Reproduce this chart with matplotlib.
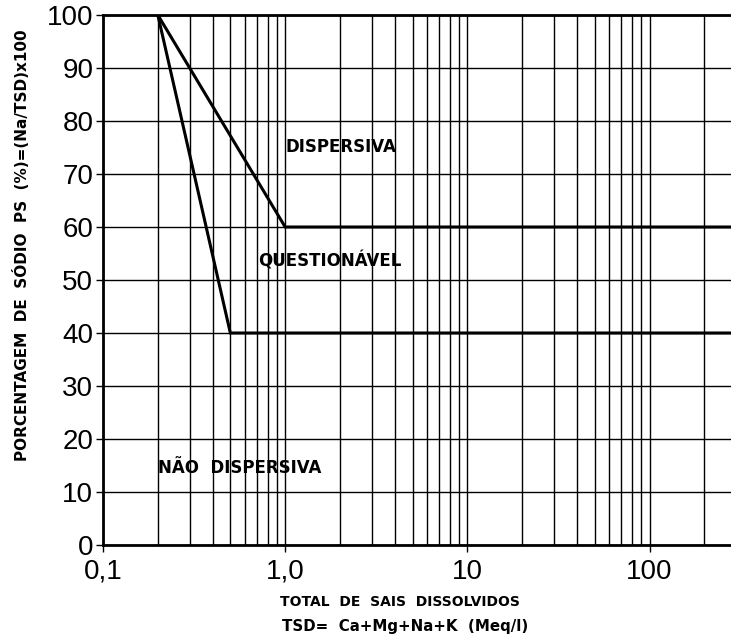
import matplotlib
matplotlib.use("Agg")
import matplotlib.pyplot as plt
from matplotlib.ticker import FixedLocator, NullFormatter, LogLocator

# Boundary lines
upper_x = [0.2, 1.0, 280]
upper_y = [100, 60, 60]
lower_x = [0.2, 0.5, 280]
lower_y = [100, 40, 40]

x_ticks = [0.1, 1.0, 10, 100]
x_tick_labels = ["0,1", "1,0", "10", "100"]
y_ticks = list(range(0, 101, 10))

region_labels = ["DISPERSIVA", "QUESTIONÁVEL", "NÃO  DISPERSIVA"]
region_x = [1.0, 0.71, 0.2]
region_y = [75, 53.5, 14.5]

fig = plt.figure(figsize=(7.31, 6.39), dpi=100)
ax = fig.add_axes([103/731, 1 - 545/639, 1 - 103/731, (545 - 15)/639])
ax.set_xscale("log")
ax.set_xlim(0.1, 280)
ax.set_ylim(0, 100)

ax.plot(upper_x, upper_y, color="black", lw=2.2, solid_joinstyle="miter", zorder=3)
ax.plot(lower_x, lower_y, color="black", lw=2.2, solid_joinstyle="miter", zorder=3)

ax.xaxis.set_major_locator(FixedLocator(x_ticks))
ax.set_xticklabels(x_tick_labels)
ax.xaxis.set_minor_locator(LogLocator(base=10, subs=[2, 3, 4, 5, 6, 7, 8, 9]))
ax.xaxis.set_minor_formatter(NullFormatter())
ax.set_yticks(y_ticks)

ax.grid(True, which="major", color="black", lw=1.0)
ax.grid(True, which="minor", axis="x", color="black", lw=1.0)

for s in ["left", "bottom", "top"]:
    ax.spines[s].set_linewidth(2)
ax.spines["right"].set_visible(False)

ax.tick_params(axis="both", which="major", direction="out", length=5, width=1,
               labelsize=20, colors="black")
ax.tick_params(axis="x", which="minor", length=0)
ax.tick_params(axis="x", pad=5)
ax.tick_params(axis="y", pad=2)
for lab in ax.get_xticklabels() + ax.get_yticklabels():
    lab.set_family("Liberation Sans")

for t, xx, yy in zip(region_labels, region_x, region_y):
    ax.text(xx, yy, t, fontsize=12, ha="left", va="center", fontweight="bold",
            family="DejaVu Sans Condensed", color="black")

fig.text(400/731, 1 - 602/639, "TOTAL  DE  SAIS  DISSOLVIDOS", ha="center", va="center",
         fontsize=10, fontweight="bold", family="DejaVu Sans Condensed")
fig.text(405/731, 1 - 627/639, "TSD=  Ca+Mg+Na+K  (Meq/l)", ha="center", va="center",
         fontsize=10.8, fontweight="bold", family="DejaVu Sans Condensed")
fig.text(22/731, 1 - 245/639, "PORCENTAGEM  DE  SÓDIO  PS  (%)=(Na/TSD)x100", ha="center",
         va="center", rotation=90, fontsize=11, fontweight="bold",
         family="DejaVu Sans Condensed")

fig.savefig("out.png", dpi=100)
